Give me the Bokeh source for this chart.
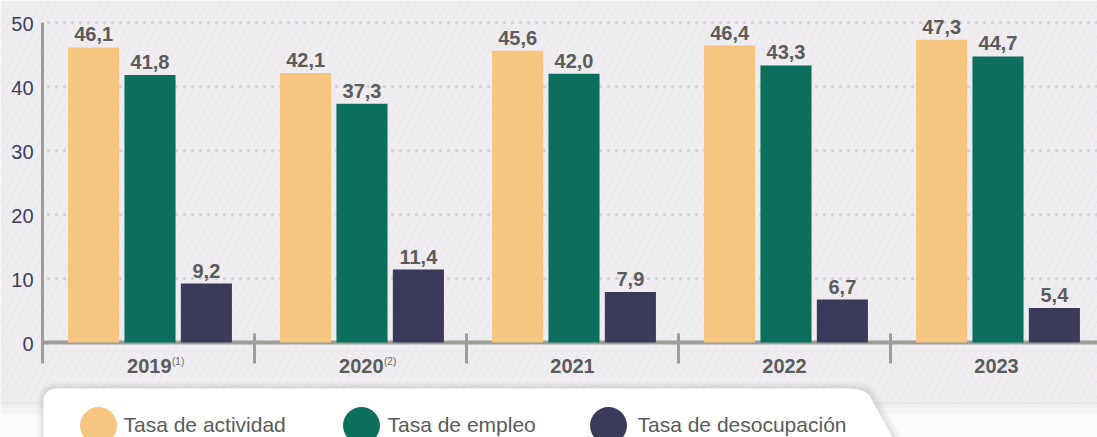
import numpy as np
from bokeh.plotting import figure
from bokeh.models import Range1d
from bokeh.core.properties import value
from bokeh.embed import file_html
from bokeh.resources import INLINE

# ---------------- data ----------------
years = ["2019", "2020", "2021", "2022", "2023"]
notes = ["(1)", "(2)", "", "", ""]
actividad = [46.1, 42.1, 45.6, 46.4, 47.3]
empleo = [41.8, 37.3, 42.0, 43.3, 44.7]
desocupacion = [9.2, 11.4, 7.9, 6.7, 5.4]
series_names = ["Tasa de actividad", "Tasa de empleo", "Tasa de desocupación"]
colors = ["#f6c680", "#0b6f5c", "#3a3a5a"]
y_ticks = [0, 10, 20, 30, 40, 50]

# ---------------- layout helpers (pixel -> data) ----------------
W, H = 1097, 437
X0, CAT = 42, 212.0      # x pixel of category 0 start, pixels per category
Y0, PPU = 342, 6.4       # y pixel of value 0, pixels per unit


def X(px):
    return (px - X0) / CAT


def Y(py):
    return (Y0 - py) / PPU


FONT = value("Liberation Sans")

p = figure(width=W, height=H,
           x_range=Range1d(X(0), X(W)), y_range=Range1d(Y(H), Y(0)),
           output_backend="svg", toolbar_location=None, min_border=0,
           x_axis_type=None, y_axis_type=None, outline_line_color=None,
           background_fill_color="#fbfbfb", border_fill_color="#fbfbfb")
p.grid.visible = False

# chart background with faint diagonal hatch
p.quad(left=X(0), right=X(W), top=Y(0), bottom=Y(401),
       fill_color="#f0edf1", line_color=None,
       hatch_pattern="/", hatch_color="#e8e5ea", hatch_scale=15, hatch_weight=1)
# soft band under chart background
band = [(401, 404, "#e6e6e6"), (404, 408, "#eeeeee"), (408, 414, "#f4f4f4")]
for t, b, c in band:
    p.quad(left=X(0), right=X(W), top=Y(t), bottom=Y(b), fill_color=c, line_color=None)

# dotted grid lines
p.segment(x0=[X(48)] * 5, x1=[X(W)] * 5, y0=y_ticks[1:], y1=y_ticks[1:],
          line_color="#d3d1d6", line_width=3.3, line_dash="0 8", line_cap="round")

# axis lines
axis_col = "#9c9e9a"
p.segment(x0=[0], x1=[0], y0=[y_ticks[-1]], y1=[Y(363)], line_color=axis_col, line_width=3)
p.segment(x0=[0], x1=[X(W)], y0=[0], y1=[0], line_color=axis_col, line_width=4)
seps = list(range(1, len(years) + 1))
p.segment(x0=seps, x1=seps, y0=[Y(333)] * len(seps), y1=[Y(363)] * len(seps),
          line_color=axis_col, line_width=3)

# bars and value labels
offsets = [-0.259, 0.007, 0.273]
for vals, off, col in zip([actividad, empleo, desocupacion], offsets, colors):
    xs = [i + 0.5 + off for i in range(len(years))]
    p.vbar(x=xs, top=vals, bottom=0, width=0.241, fill_color=col, line_color=None)
    p.text(x=xs, y=vals, text=[f"{v:.1f}".replace(".", ",") for v in vals],
           text_align="center", text_baseline="middle", y_offset=-13,
           text_font=FONT, text_font_style="bold", text_font_size="20px",
           text_color="#5b5b5b")

# y tick labels
p.text(x=[X(33)] * len(y_ticks), y=y_ticks, text=[str(t) for t in y_ticks],
       text_align="right", text_baseline="middle", y_offset=1,
       text_font=FONT, text_font_size="20px", text_color="#3c3c63")

# x category labels (with footnote marks)
for i, (yr, nt) in enumerate(zip(years, notes)):
    if nt:
        xr = i + 0.5 + 23 / CAT
        p.text(x=[xr], y=[Y(365)], text=[yr], text_align="right",
               text_baseline="middle", text_font=FONT, text_font_style="bold",
               text_font_size="20px", text_color="#5b5b5b")
        p.text(x=[xr + 0.5 / CAT], y=[Y(361)], text=[nt], text_align="left",
               text_baseline="middle", text_font=FONT, text_font_size="10px",
               text_color="#666666")
    else:
        p.text(x=[i + 0.5], y=[Y(365)], text=[yr], text_align="center",
               text_baseline="middle", text_font=FONT, text_font_style="bold",
               text_font_size="20px", text_color="#5b5b5b")


# legend tab
def tab_polygon(d=0.0):
    l, t, b = 43 - d, 388 - d, 445
    rad = 12 + d
    slope = 15 / 27.0
    cx = 865 + d            # nominal top-right corner
    pts = [(l, b), (l, t + rad)]
    for a in np.linspace(np.pi, np.pi / 2, 10):
        pts.append((l + rad + rad * np.cos(a), t + rad - rad * np.sin(a)))
    p0 = (cx - 17, t)
    c = (cx, t)
    p2 = (cx + 9 * slope, t + 9)
    for s in np.linspace(0, 1, 10):
        x = (1 - s) ** 2 * p0[0] + 2 * (1 - s) * s * c[0] + s ** 2 * p2[0]
        y = (1 - s) ** 2 * p0[1] + 2 * (1 - s) * s * c[1] + s ** 2 * p2[1]
        pts.append((x, y))
    pts.append((cx + (b - t) * slope, b))
    return [X(q[0]) for q in pts], [Y(q[1]) for q in pts]


for d, a in [(6, 0.025), (4, 0.03), (2, 0.04)]:
    xs, ys = tab_polygon(d)
    p.patch(xs, ys, fill_color="#000000", fill_alpha=a, line_color=None)
xs, ys = tab_polygon(0)
p.patch(xs, ys, fill_color="#ffffff", line_color=None)

leg_circle_px = [98, 361, 608]
leg_text_px = [123, 387, 637]
p.scatter(x=[X(v) for v in leg_circle_px], y=[Y(425)] * 3, size=37, marker="circle",
          fill_color=colors, line_color=None)
p.text(x=[X(v) for v in leg_text_px], y=[Y(424)] * 3, text=series_names,
       text_align="left", text_baseline="middle", text_font=FONT,
       text_font_size="21px", text_color="#5a5a5a")

open("out.html", "w").write(file_html(p, INLINE))
